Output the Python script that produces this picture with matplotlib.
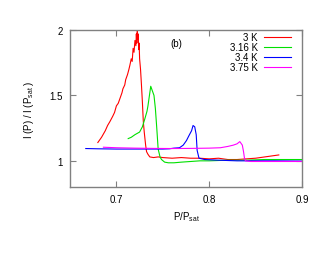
import matplotlib
matplotlib.use("Agg")
import matplotlib.pyplot as plt

plt.rcParams['font.family'] = ['Liberation Sans', 'DejaVu Sans']

# 3 K (red)
x_3 = [0.680, 0.684, 0.688, 0.6905, 0.693, 0.696, 0.698, 0.700, 0.702, 0.704, 0.706,
       0.707, 0.709, 0.710, 0.712, 0.7135, 0.7145, 0.716, 0.717, 0.718, 0.719, 0.720,
       0.721, 0.7215, 0.722, 0.7225, 0.723, 0.7235, 0.724, 0.7245, 0.725, 0.726,
       0.727, 0.728, 0.729, 0.730, 0.7315, 0.7325, 0.734, 0.736, 0.740, 0.745,
       0.750, 0.760, 0.770, 0.780, 0.790, 0.800, 0.810, 0.820, 0.830, 0.840,
       0.850, 0.860, 0.870, 0.875]
y_3 = [1.14, 1.18, 1.23, 1.27, 1.30, 1.34, 1.37, 1.42, 1.44, 1.48, 1.52,
       1.55, 1.58, 1.62, 1.66, 1.70, 1.73, 1.78, 1.76, 1.86, 1.83, 1.92,
       1.88, 1.97, 1.90, 1.99, 1.93, 1.97, 1.85, 1.90, 1.78, 1.70,
       1.58, 1.45, 1.30, 1.22, 1.12, 1.07, 1.05, 1.03, 1.025, 1.03,
       1.025, 1.02, 1.025, 1.02, 1.02, 1.015, 1.02, 1.01, 1.01, 1.015,
       1.02, 1.03, 1.04, 1.045]

# 3.16 K (green)
x_316 = [0.7127, 0.716, 0.720, 0.725, 0.728, 0.7306, 0.733, 0.734, 0.736, 0.737,
         0.738, 0.739, 0.7405, 0.742, 0.7435, 0.745, 0.747, 0.7486, 0.752, 0.756,
         0.762, 0.770, 0.780, 0.790, 0.800, 0.820, 0.840, 0.860, 0.880, 0.900]
y_316 = [1.17, 1.18, 1.20, 1.22, 1.26, 1.32, 1.38, 1.42, 1.52, 1.57,
         1.55, 1.53, 1.50, 1.40, 1.25, 1.09, 1.03, 1.01, 0.99, 0.985,
         0.985, 0.99, 0.995, 1.0, 1.0, 1.005, 1.005, 1.01, 1.01, 1.01]

# 3.4 K (blue)
x_34 = [0.667, 0.680, 0.700, 0.720, 0.740, 0.750, 0.757, 0.762, 0.768, 0.772,
        0.7755, 0.778, 0.781, 0.7826, 0.7844, 0.786, 0.787, 0.789, 0.795, 0.810,
        0.830, 0.850, 0.870, 0.900]
y_34 = [1.094, 1.092, 1.090, 1.090, 1.090, 1.090, 1.092, 1.097, 1.10, 1.12,
        1.155, 1.19, 1.23, 1.27, 1.26, 1.20, 1.08, 1.02, 1.01, 1.005,
        1.0, 1.0, 1.0, 0.998]

# 3.75 K (magenta)
x_375 = [0.686, 0.700, 0.720, 0.740, 0.760, 0.780, 0.800, 0.812, 0.820, 0.826,
         0.830, 0.833, 0.8357, 0.837, 0.838, 0.839, 0.845, 0.860, 0.880, 0.900]
y_375 = [1.104, 1.10, 1.097, 1.095, 1.094, 1.095, 1.097, 1.10, 1.11, 1.12,
         1.13, 1.147, 1.12, 1.07, 1.02, 1.0, 0.995, 0.995, 0.995, 0.995]

labels = ['3 K', '3.16 K', '3.4 K', '3.75 K']
colors = ['#ff0000', '#00e000', '#0000ff', '#ff00ff']

fig = plt.figure(figsize=(3.3, 2.55), dpi=100)
ax = fig.add_axes([70/330, 1-188/255, 232/330, 157/255])

for xs, ys, c in zip([x_3, x_316, x_34, x_375], [y_3, y_316, y_34, y_375], colors):
    ax.plot(xs, ys, color=c, lw=0.8)

ax.set_xlim(0.65, 0.9)
ax.set_ylim(0.8, 2.0)
ax.set_xticks([0.7, 0.8, 0.9])
ax.set_xticklabels(['0.7', '0.8', '0.9'])
ax.set_yticks([1, 1.5, 2])
ax.set_yticklabels(['1', '1.5', '2'])
ax.tick_params(direction='in', length=4, width=0.8, color='#808080', labelsize=7,
               top=True, right=True, pad=5)
for s in ax.spines.values():
    s.set_color('#808080')
    s.set_linewidth(1.0)

ax.set_xlabel('P/P$_{\\mathregular{sat}}$', fontsize=7, labelpad=4)
ax.set_ylabel('I (P) / I (P$_{\\mathregular{sat}}$ )', fontsize=7, labelpad=10)
ax.text(0.46, 0.92, '(b)', transform=ax.transAxes, fontsize=7, va='center', ha='center')

# legend (right-aligned labels, sample line to the right)
row_y = [0.955, 0.892, 0.828, 0.764]
for lab, c, yy in zip(labels, colors, row_y):
    ax.text(0.810, yy, lab, transform=ax.transAxes, fontsize=7, ha='right', va='center')
    ax.plot([0.836, 0.953], [yy, yy], transform=ax.transAxes, color=c, lw=0.8, clip_on=False)

fig.savefig('out.png', dpi=100)
